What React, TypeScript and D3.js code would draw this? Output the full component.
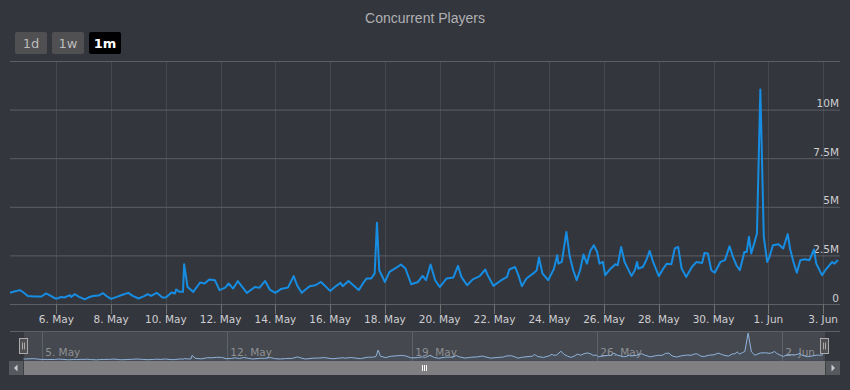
import React, { useEffect } from "react";
import * as d3 from "d3";

// hours since 4 May 00:00 (UTC) and concurrent players in millions
const hours = [
  7, 12, 16, 19, 23, 29, 35, 39, 42, 47, 49, 52, 55, 60, 61, 64, 68, 73, 76, 80,
  85, 89, 93, 96, 101, 106, 111, 115, 120, 125, 128, 131, 136, 141, 144, 149, 152, 153, 156, 159,
  160, 163, 168, 174, 178, 182, 187, 191, 196, 199, 203, 207, 215, 222, 226, 231, 235, 240, 245, 251,
  256, 259, 263, 270, 275, 280, 288, 292, 297, 299, 304, 313, 317, 320, 324, 327, 329, 331, 336, 340,
  346, 350, 354, 359, 365, 369, 372, 376, 380, 384, 390, 396, 400, 403, 408, 413, 419, 424, 426, 431,
  437, 443, 445, 450, 453, 456, 460, 466, 469, 471, 474, 479, 484, 487, 488, 491, 495, 498, 501, 504,
  507, 510, 513, 516, 519, 522, 524, 527, 529, 533, 538, 540, 543, 546, 552, 555, 557, 558, 562, 565,
  568, 571, 576, 580, 583, 587, 590, 593, 596, 600, 605, 609, 614, 616, 619, 622, 625, 630, 634, 638,
  641, 644, 647, 651, 653, 655, 657, 660, 662, 665, 668, 671, 673, 676, 681, 685, 689, 691, 694, 697,
  700, 704, 708, 712, 714, 719, 723, 728, 730, 733,
];
const playersM = [
  0.6, 0.68, 0.74, 0.63, 0.44, 0.41, 0.41, 0.57, 0.48, 0.31, 0.31, 0.39, 0.36, 0.48, 0.39, 0.53, 0.39, 0.26, 0.36, 0.44,
  0.46, 0.58, 0.39, 0.29, 0.39, 0.5, 0.6, 0.44, 0.31, 0.43, 0.53, 0.44, 0.6, 0.36, 0.36, 0.62, 0.57, 0.77, 0.65, 0.65,
  2.07, 0.9, 0.65, 1.13, 1.08, 1.29, 1.25, 0.74, 0.87, 1.08, 0.82, 1.2, 0.6, 0.9, 0.86, 1.21, 0.77, 0.6, 0.8, 0.87,
  1.46, 0.99, 0.6, 0.94, 0.99, 1.16, 0.7, 0.9, 1.11, 0.94, 1.21, 0.74, 1.11, 1.34, 1.34, 1.6, 4.2, 1.76, 1.16, 1.68,
  1.9, 2.06, 1.85, 1.04, 1.16, 1.47, 1.25, 2.06, 1.25, 0.9, 1.34, 1.39, 1.99, 1.42, 0.99, 1.29, 1.46, 1.8, 1.51, 0.96,
  1.21, 1.42, 1.8, 1.93, 1.5, 0.94, 1.34, 1.6, 1.76, 2.42, 1.6, 1.25, 1.82, 2.54, 2.1, 2.19, 3.73, 2.45, 1.76, 1.25,
  1.76, 2.57, 2.1, 2.76, 3.05, 2.7, 2.1, 2.19, 1.51, 1.8, 2.07, 2.02, 2.96, 2.19, 1.47, 1.76, 2.19, 1.85, 1.93, 2.28,
  2.76, 2.19, 1.46, 1.85, 2.1, 2.07, 2.88, 2.96, 1.85, 1.42, 1.93, 2.19, 2.14, 2.65, 2.62, 1.76, 1.63, 2.19, 2.28, 3.0,
  2.45, 2.02, 1.76, 2.7, 2.7, 3.48, 2.62, 3.22, 3.65, 11.06, 3.48, 2.19, 2.45, 3.05, 3.1, 2.88, 3.62, 2.88, 2.19, 1.63,
  2.28, 2.33, 2.28, 2.83, 2.1, 1.51, 1.85, 2.19, 2.1, 2.29,
];
const yTicksM = [0, 2.5, 5, 7.5, 10, 12.5];
const rangeButtons = ["1d", "1w", "1m"];
const selectedRange = "1m";
const chartTitle = "Concurrent Players";

const W = 850;
const H = 390;
const t0 = Date.UTC(2018, 4, 4);
const toDate = (h: number) => new Date(t0 + h * 3600e3);

const bg = "#33363d";
const lineColor = "#168de2";
const font = "'DejaVu Sans', Verdana, sans-serif";

const App = () => {
  useEffect(() => {
    document.body.style.margin = "0";
    document.body.style.background = bg;
  }, []);

  const data = hours.map((h, i) => ({ date: toDate(h), v: playersM[i] }));

  const x = d3.scaleUtc().domain([toDate(7.4), toDate(734.8)]).range([10, 840]);
  const y = d3.scaleLinear().domain([0, 12.5]).range([304.5, 61.5]);
  const xNav = d3.scaleUtc().domain(x.domain()).range([24, 825]);
  const yNav = d3.scaleLinear().domain([0, 11.9]).range([360.5, 331]);

  const [d0, d1] = x.domain();
  const xTicks = d3.utcDay.range(new Date(Date.UTC(2018, 4, 6)), d1, 2);
  const navTicks = d3.utcDay.range(new Date(Date.UTC(2018, 4, 5)), d1, 7);
  const fmt = d3.utcFormat("%-d. %b");

  const line = d3.line<{ date: Date; v: number }>().x((d) => x(d.date)).y((d) => y(d.v));
  const navLine = d3.line<{ date: Date; v: number }>().x((d) => xNav(d.date)).y((d) => yNav(d.v));
  const navArea = d3
    .area<{ date: Date; v: number }>()
    .x((d) => xNav(d.date))
    .y0(yNav(0))
    .y1((d) => yNav(d.v));

  const left = x.range()[0];
  const right = x.range()[1];
  const hL = xNav(d0);
  const hR = xNav(d1);

  return (
    <div style={{ position: "fixed", left: 0, top: 0 }}>
      <svg width={W} height={H} style={{ display: "block" }}>
        <rect width={W} height={H} fill={bg} />
        <text x={W / 2} y={23} textAnchor="middle" fill="#b0b0b3" fontSize={14} fontFamily="'Liberation Sans', Arial, sans-serif">
          {chartTitle}
        </text>

        {/* range selector */}
        {rangeButtons.map((b, i) => {
          const sel = b === selectedRange;
          return (
            <g key={b} transform={`translate(${15 + i * 37},32)`}>
              <rect width={32} height={22} rx={2} fill={sel ? "#000003" : "#505053"} />
              <text x={16} y={15.5} textAnchor="middle" fontSize={13} fontFamily={font} fill={sel ? "#fff" : "#bbb"} fontWeight={sel ? "bold" : "normal"}>
                {b}
              </text>
            </g>
          );
        })}

        {/* grid */}
        {xTicks.map((t) => (
          <line key={"vg" + t.getTime()} x1={Math.round(x(t)) + 0.5} x2={Math.round(x(t)) + 0.5} y1={61} y2={304} stroke="#45484e" />
        ))}
        {yTicksM.map((v) => (
          <line key={"hg" + v} x1={left} x2={right} y1={y(v)} y2={y(v)} stroke="#5c5f65" />
        ))}
        {yTicksM
          .filter((v) => v < 12.5)
          .map((v) => (
            <text key={"yl" + v} x={839} y={y(v) - 3} textAnchor="end" fontSize={10.5} fontFamily={font} fill="#cfcfd2">
              {v === 0 ? "0" : `${v}M`}
            </text>
          ))}

        {/* x axis */}
        {xTicks.map((t) => (
          <g key={"xt" + t.getTime()}>
            <line x1={Math.round(x(t)) + 0.5} x2={Math.round(x(t)) + 0.5} y1={304.5} y2={314} stroke="#707073" />
            <text x={x(t)} y={323} textAnchor="middle" fontSize={10.5} fontFamily={font} fill="#cfcfd2">
              {fmt(t)}
            </text>
          </g>
        ))}

        <defs>
          <clipPath id="plotClip">
            <rect x={left} y={55} width={right - left} height={250} />
          </clipPath>
        </defs>
        <path d={line(data) || ""} fill="none" stroke={lineColor} strokeWidth={2} strokeLinejoin="round" clipPath="url(#plotClip)" />

        {/* navigator */}
        <rect x={hL} y={331} width={hR - hL} height={30} fill="rgba(255,255,255,0.09)" />
        {navTicks.map((t) => (
          <g key={"nt" + t.getTime()}>
            <line x1={Math.round(xNav(t)) + 0.5} x2={Math.round(xNav(t)) + 0.5} y1={331} y2={361} stroke="#5e6166" />
            <text x={xNav(t) + 3} y={356} fontSize={10.5} fontFamily={font} fill="#8e9094">
              {fmt(t)}
            </text>
          </g>
        ))}
        <path d={navArea(data) || ""} fill="rgba(120,170,230,0.08)" />
        <path d={navLine(data) || ""} fill="none" stroke="#8fb3dc" strokeWidth={1} />
        <line x1={left} x2={right} y1={331.5} y2={331.5} stroke="#5e6166" />
        {[hL, hR].map((hx, i) => (
          <g key={"h" + i} transform={`translate(${Math.round(hx) - 4.5},338.5)`}>
            <rect width={8} height={15} fill="#505053" stroke="#aaaaaa" />
            <line x1={3} x2={3} y1={4} y2={11} stroke="#aaaaaa" />
            <line x1={5} x2={5} y1={4} y2={11} stroke="#aaaaaa" />
          </g>
        ))}

        {/* scrollbar */}
        <rect x={9} y={361} width={831} height={14} fill="#404043" />
        <rect x={hL} y={361} width={hR - hL} height={14} fill="#808083" />
        <rect x={9} y={361} width={14} height={14} fill="#56595e" />
        <rect x={826} y={361} width={14} height={14} fill="#56595e" />
        <path d="M17.5,364.5 L17.5,371.5 L14,368 Z" fill="#cccccc" />
        <path d="M831.5,364.5 L831.5,371.5 L835,368 Z" fill="#cccccc" />
        {[-2, 0, 2].map((o) => (
          <line key={"r" + o} x1={(hL + hR) / 2 + o} x2={(hL + hR) / 2 + o} y1={365} y2={371} stroke="#ffffff" />
        ))}
      </svg>
    </div>
  );
};

export default App;
